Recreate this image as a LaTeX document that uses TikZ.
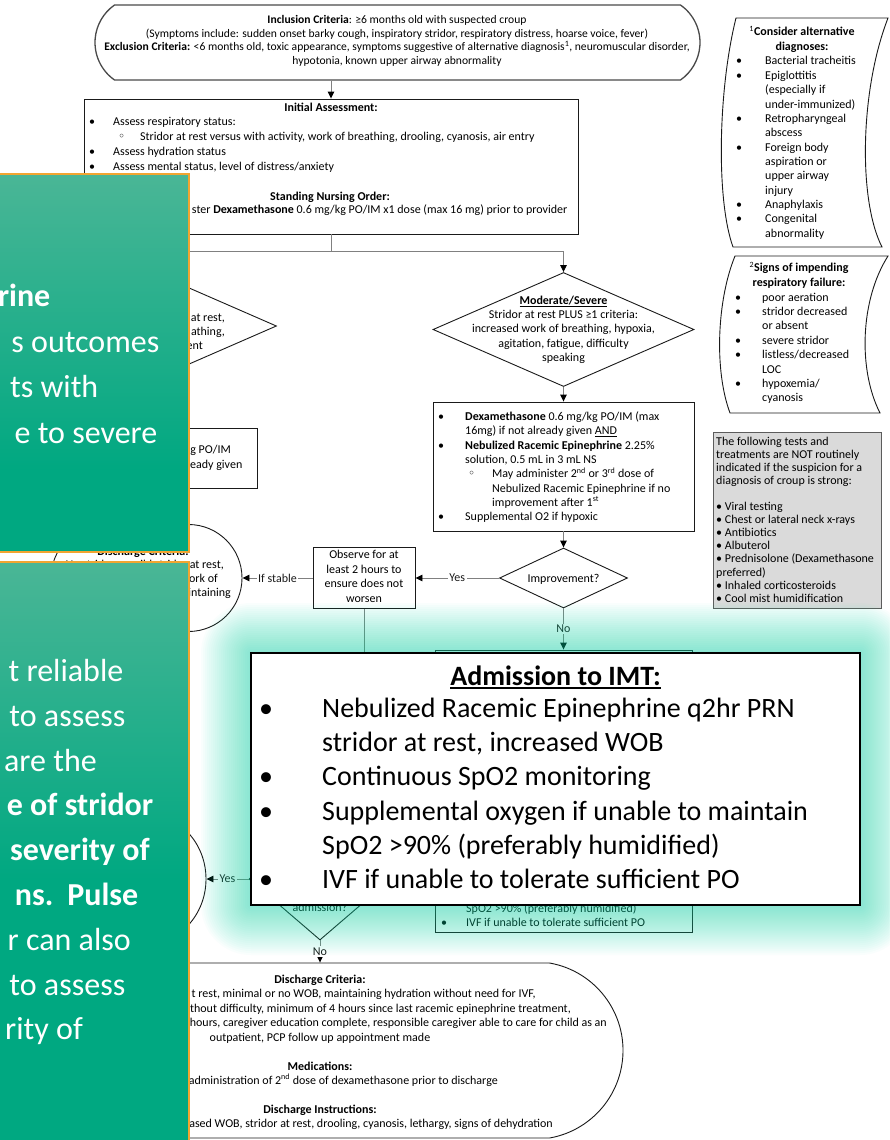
\documentclass[tikz,border=0pt]{standalone}
\usepackage{fontspec}
\setmainfont{Carlito}
\newfontfamily\symfnt{DejaVu Sans}
\usetikzlibrary{arrows.meta,shapes.geometric,shapes.misc}

\definecolor{wirec}{HTML}{808080}
\definecolor{inkc}{HTML}{1A1A1A}
\definecolor{termc}{HTML}{4A4A4A}
\definecolor{notefill}{HTML}{DADADA}
\definecolor{noteedge}{HTML}{5C5C5C}
\definecolor{glowtint}{RGB}{20,225,175}
\definecolor{panelhi}{RGB}{74,182,150}
\definecolor{panello}{RGB}{0,168,129}
\definecolor{panelrim}{HTML}{F2A531}

\newcommand{\fcTxt}{\fontsize{12}{14.4}\selectfont}
\newcommand{\rowsL}[1]{\begin{tabular}[t]{@{}l@{}}#1\end{tabular}}
\newcommand{\rowsC}[1]{\begin{tabular}[t]{@{}c@{}}#1\end{tabular}}
\newcommand{\bulA}[1]{\makebox[#1][l]{•}}
\newcommand{\subbulA}[1]{\makebox[#1][l]{{\symfnt ◦}}}
\newsavebox{\ulbox}
\newcommand{\ulthick}[3]{\sbox{\ulbox}{#3}\rlap{\rule[-#1]{\wd\ulbox}{#2}}\usebox{\ulbox}}

\begin{document}
\begin{tikzpicture}[x=1pt,y=-1pt,
  boxed/.style={draw=inkc, line width=0.9pt, inner sep=0, fill=white},
  termshape/.style={rounded rectangle, draw=inkc, line width=0.9pt, inner sep=0, fill=white},
  diashape/.style={diamond, draw=inkc, line width=0.9pt, inner sep=0, fill=white},
  wireline/.style={draw=wirec, line width=0.9pt},
  flow/.style={wireline, -{Triangle[length=7pt,width=6.5pt,color=black]}},
  lbl/.style={fill=white, inner sep=1.5pt, font=\fcTxt, text=inkc},
  txt/.style={inner sep=0, font=\fcTxt, text=black},
  ptxt/.style={anchor=base east, inner sep=0, text=white, font=\fontsize{32}{38}\selectfont},
]
\useasboundingbox (0,0) rectangle (889,1140);
\fill[white] (0,0) rectangle (889,1140);

% ---------- entry criteria ----------
\node[termshape, rounded rectangle arc length=110, draw=termc, line width=1.3pt,
      minimum width=605pt, minimum height=75pt] (incl) at (397.5,42.5) {};
\node[txt, anchor=base, font=\fontsize{11.6}{13.6}\selectfont] (incltxt) at (397,23.5) {\rowsC{%
  \textbf{Inclusion Criteria}: ≥6 months old with suspected croup\\
  (Symptoms include: sudden onset barky cough, inspiratory stridor, respiratory distress, hoarse voice, fever)\\
  \textbf{Exclusion Criteria:} <6 months old, toxic appearance, symptoms suggestive of alternative diagnosis\textsuperscript{1}, neuromuscular disorder,\\
  hypotonia, known upper airway abnormality}};

% ---------- initial assessment ----------
\node[boxed, minimum width=494pt, minimum height=135pt] (init) at (331,166.5) {};
\node[txt, anchor=base] (inittitle) at (331,111) {\textbf{Initial Assessment:}};
\node[txt, anchor=base west, font=\fontsize{12}{15}\selectfont] (initlist) at (89,125.5) {\rowsL{%
  \bulA{24pt}Assess respiratory status:\\
  \hspace*{29pt}\subbulA{22pt}Stridor at rest versus with activity, work of breathing, drooling, cyanosis, air entry\\
  \bulA{24pt}Assess hydration status\\
  \bulA{24pt}Assess mental status, level of distress/anxiety}};
\node[txt, anchor=base] (ordertitle) at (330,200) {\textbf{Standing Nursing Order:}};
\node[txt, anchor=base east] (ordertxt) at (567.5,213.5) {ster \textbf{Dexamethasone} 0.6 mg/kg PO/IM x1 dose (max 16 mg) prior to provider};

% ---------- mild branch ----------
\node[diashape, minimum width=261pt, minimum height=114pt] (milddia) at (146,326) {};
\node[txt, anchor=base east] (mildA) at (225,321.5) {r at rest,};
\node[txt, anchor=base east] (mildB) at (225,335.5) {athing,};
\node[txt, anchor=base east] (mildC) at (203,349.5) {ent};
\node[boxed, minimum width=222pt, minimum height=60pt] (mildbox) at (146,458) {};
\node[txt, anchor=base east] (mildboxA) at (231,453.5) {g PO/IM};
\node[txt, anchor=base east] (mildboxB) at (242.5,468.5) {ready given};
\node[termshape, minimum width=191pt, minimum height=107pt] (leftdis) at (146.5,578) {};
\node[txt, anchor=base] (leftdisA) at (143,555) {\textbf{Discharge Criteria:}};
\node[txt, anchor=base east] (leftdisB) at (224,568.5) {No stridor or mild stridor at rest,};
\node[txt, anchor=base east] (leftdisC) at (218,582) {ork of};
\node[txt, anchor=base east] (leftdisD) at (231,596) {intaining};

% ---------- moderate / severe branch ----------
\node[diashape, minimum width=261pt, minimum height=114pt] (moddia) at (563.5,329.5) {};
\node[txt, anchor=base, font=\fontsize{12}{14.2}\selectfont] (moddiatxt) at (563.5,304.5) {\rowsC{%
  \ulthick{2pt}{0.8pt}{\textbf{Moderate/Severe}}\\
  Stridor at rest PLUS ≥1 criteria:\\
  increased work of breathing, hypoxia,\\
  agitation, fatigue, difficulty\\
  speaking}};
\node[boxed, minimum width=261pt, minimum height=129pt] (modbox) at (563.5,466.5) {};
\node[txt, anchor=base west, font=\fontsize{12}{14.3}\selectfont] (modlist) at (438,420.5) {\rowsL{%
  \bulA{27pt}\textbf{Dexamethasone} 0.6 mg/kg PO/IM (max\\
  \hspace*{27pt}16mg) if not already given \ulthick{2pt}{0.8pt}{AND}\\
  \bulA{27pt}\textbf{Nebulized Racemic Epinephrine} 2.25\%\\
  \hspace*{27pt}solution, 0.5 mL in 3 mL NS\\
  \hspace*{30pt}\subbulA{24pt}May administer 2\textsuperscript{nd} or 3\textsuperscript{rd} dose of\\
  \hspace*{54pt}Nebulized Racemic Epinephrine if no\\
  \hspace*{54pt}improvement after 1\textsuperscript{st}\\
  \bulA{27pt}Supplemental O2 if hypoxic}};

\node[diashape, minimum width=128pt, minimum height=60pt] (impdia) at (563.5,578) {};
\node[txt, anchor=base] (imptxt) at (563.5,582) {Improvement?};
\node[boxed, minimum width=102pt, minimum height=61pt] (obs) at (364,578) {};
\node[txt, anchor=base, font=\fontsize{12}{14.5}\selectfont] (obstxt) at (364,558.5) {\rowsC{Observe for at\\least 2 hours to\\ensure does not\\worsen}};

% ---------- admission / discharge ----------
\node[boxed, minimum width=257pt, minimum height=282pt] (admbox) at (563.5,791) {};
\node[txt, anchor=base west] (admboxtxt) at (441,912.5) {\rowsL{%
  \hspace*{25pt}SpO2 >90\% (preferably humidified)\\
  \bulA{25pt}IVF if unable to tolerate sufficient PO}};
\node[diashape, minimum width=142pt, minimum height=122pt] (admdia) at (320,879) {};
\node[txt, anchor=base] (admdiatxt) at (320,911.5) {admission?};
\node[ellipse, draw=inkc, line width=0.9pt, fill=white, inner sep=0,
      minimum width=120pt, minimum height=130pt] (botleft) at (146,879) {};

\node[termshape, rounded rectangle arc length=160, minimum width=606pt, minimum height=175pt] (dis) at (320,1050.5) {};
\node[txt, anchor=base] (disA) at (320,983.5) {\textbf{Discharge Criteria:}};
\node[txt, anchor=base east] (disB) at (536,997.8) {t rest, minimal or no WOB, maintaining hydration without need for IVF,};
\node[txt, anchor=base east] (disC) at (571,1012.2) {thout difficulty, minimum of 4 hours since last racemic epinephrine treatment,};
\node[txt, anchor=base east] (disD) at (607,1026.6) {hours, caregiver education complete, responsible caregiver able to care for child as an};
\node[txt, anchor=base] (disE) at (320,1041) {outpatient, PCP follow up appointment made};
\node[txt, anchor=base] (disF) at (320,1070) {\textbf{Medications:}};
\node[txt, anchor=base east] (disG) at (498,1084.3) {administration of 2\textsuperscript{nd} dose of dexamethasone prior to discharge};
\node[txt, anchor=base] (disH) at (320,1113) {\textbf{Discharge Instructions:}};
\node[txt, anchor=base east] (disI) at (553,1127.5) {ased WOB, stridor at rest, drooling, cyanosis, lethargy, signs of dehydration};

% ---------- connectors ----------
\draw[flow] (init.north |- incl.south) -- (init.north);
\draw[wireline] (init.south) -- ++(0,17) coordinate (split);
\draw[flow] (split) -| (milddia.north);
\draw[flow] (split) -| (moddia.north);
\draw[flow] (milddia.south) -- (mildbox.north);
\draw[flow] (mildbox.south) -- (leftdis.north);
\draw[flow] (moddia.south) -- (modbox.north);
\draw[flow] (modbox.south) -- (impdia.north);
\draw[flow] (impdia.west) -- node[lbl]{Yes} (obs.east);
\draw[flow] (obs.west) -- node[lbl]{If stable} (leftdis.east);
\draw[flow] (impdia.south) -- node[lbl]{No} (admbox.north);
\draw[wireline] (obs.south) -- ++(0,90);
\draw[flow] (admdia.west) -- node[lbl]{Yes} (botleft.east);
\draw[flow] (admdia.south) -- node[lbl]{No} (dis.north);

% ---------- side notes ----------
\draw[draw=inkc, line width=0.9pt, fill=white] (736,18) -- (888,18)
   .. controls (860,90) and (858,200) .. (882,247) -- (733,247)
   .. controls (716,200) and (718,90) .. cycle;
\node[txt, anchor=base, font=\fontsize{12}{14.6}\selectfont] (altT) at (802,35.5) {\rowsC{%
  \textsuperscript{1}\textbf{Consider alternative}\\\textbf{diagnoses:}}};
\node[txt, anchor=base west, font=\fontsize{12}{14.35}\selectfont] (altL) at (736,65) {\rowsL{%
  \bulA{29pt}Bacterial tracheitis\\
  \bulA{29pt}Epiglottitis\\
  \hspace*{29pt}(especially if\\
  \hspace*{29pt}under-immunized)\\
  \bulA{29pt}Retropharyngeal\\
  \hspace*{29pt}abscess\\
  \bulA{29pt}Foreign body\\
  \hspace*{29pt}aspiration or\\
  \hspace*{29pt}upper airway\\
  \hspace*{29pt}injury\\
  \bulA{29pt}Anaphylaxis\\
  \bulA{29pt}Congenital\\
  \hspace*{29pt}abnormality}};

\draw[draw=inkc, line width=0.9pt, fill=white] (735,256) -- (888,256)
   .. controls (860,300) and (858,370) .. (880,413) -- (730,413)
   .. controls (714,370) and (717,300) .. cycle;
\node[txt, anchor=base, font=\fontsize{12}{14.6}\selectfont] (failT) at (799,271.8) {\rowsC{%
  \textsuperscript{2}\textbf{Signs of impending}\\\textbf{respiratory failure:}}};
\node[txt, anchor=base west, font=\fontsize{12}{14.4}\selectfont] (failL) at (735,301) {\rowsL{%
  \bulA{27pt}poor aeration\\
  \bulA{27pt}stridor decreased\\
  \hspace*{27pt}or absent\\
  \bulA{27pt}severe stridor\\
  \bulA{27pt}listless/decreased\\
  \hspace*{27pt}LOC\\
  \bulA{27pt}hypoxemia/\\
  \hspace*{27pt}cyanosis}};

\node[draw=noteedge, fill=notefill, line width=0.9pt, inner sep=0,
      minimum width=168pt, minimum height=176pt] (note) at (797,520) {};
\node[txt, anchor=base west, font=\fontsize{12}{13.1}\selectfont] (notetxt) at (716,445) {\rowsL{%
  The following tests and\\
  treatments are NOT routinely\\
  indicated if the suspicion for a\\
  diagnosis of croup is strong:\\
  \mbox{}\\
  • Viral testing\\
  • Chest or lateral neck x-rays\\
  • Antibiotics\\
  • Albuterol\\
  • Prednisolone (Dexamethasone\\
  preferred)\\
  • Inhaled corticosteroids\\
  • Cool mist humidification}};

% ---------- highlighted admission orders ----------
\foreach \k in {0,...,24}{
  \pgfmathsetmacro{\gd}{50*(1-\k/25)}
  \fill[glowtint, opacity=0.025, rounded corners=\gd pt] (251-\gd,653-\gd) rectangle (860+\gd,905+\gd);
}
\node[draw=black, line width=2.6pt, fill=white, inner sep=0,
      minimum width=609pt, minimum height=252pt] (imt) at (555.5,779) {};
\node[txt, anchor=base, font=\fontsize{28}{34}\selectfont] (imttitle) at (555.5,685) {\ulthick{3.5pt}{1.8pt}{\textbf{Admission to IMT:}}};
\node[txt, anchor=base west, font=\fontsize{28}{34.2}\selectfont] (imtlist) at (259,717.5) {\rowsL{%
  \bulA{63pt}Nebulized Racemic Epinephrine q2hr PRN\\
  \hspace*{63pt}stridor at rest, increased WOB\\
  \bulA{63pt}Continuous SpO2 monitoring\\
  \bulA{63pt}Supplemental oxygen if unable to maintain\\
  \hspace*{63pt}SpO2 >90\% (preferably humidified)\\
  \bulA{63pt}IVF if unable to tolerate sufficient PO}};

% ---------- teaching panels ----------
\begin{scope}
  \clip (0,174) rectangle (189,552);
  \fill[panello] (0,174) rectangle (189,552);
  \shade[top color=panelhi, bottom color=panello] (0,174) rectangle (189,470);
  \node[ptxt] (p1a) at (50.5,306.5) {\textbf{rine}};
  \node[ptxt] (p1b) at (159.5,352) {s outcomes};
  \node[ptxt] (p1c) at (98.5,397.5) {ts with};
  \node[ptxt] (p1d) at (157.5,443) {e to severe};
\end{scope}
\draw[panelrim, line width=1.2pt] (0,174) -- (189,174) -- (189,552) -- (0,552);

\begin{scope}
  \clip (0,562) rectangle (189,1141);
  \fill[panello] (0,562) rectangle (189,1141);
  \shade[top color=panelhi, bottom color=panello] (0,562) rectangle (189,880);
  \node[ptxt] (p2a) at (123.5,681.5) {t reliable};
  \node[ptxt] (p2b) at (125.5,726.3) {to assess};
  \node[ptxt] (p2c) at (97,771.1) {are the};
  \node[ptxt] (p2d) at (153.5,815.9) {\textbf{e of stridor}};
  \node[ptxt] (p2e) at (150,860.7) {\textbf{severity of}};
  \node[ptxt] (p2f) at (138.5,905.5) {\textbf{ns.\hspace{14pt}Pulse}};
  \node[ptxt] (p2g) at (131,950.3) {r can also};
  \node[ptxt] (p2h) at (125.5,995.1) {to assess};
  \node[ptxt] (p2i) at (83,1039.9) {rity of};
\end{scope}
\draw[panelrim, line width=1.2pt] (0,562) -- (189,562) -- (189,1141);
\end{tikzpicture}
\end{document}
